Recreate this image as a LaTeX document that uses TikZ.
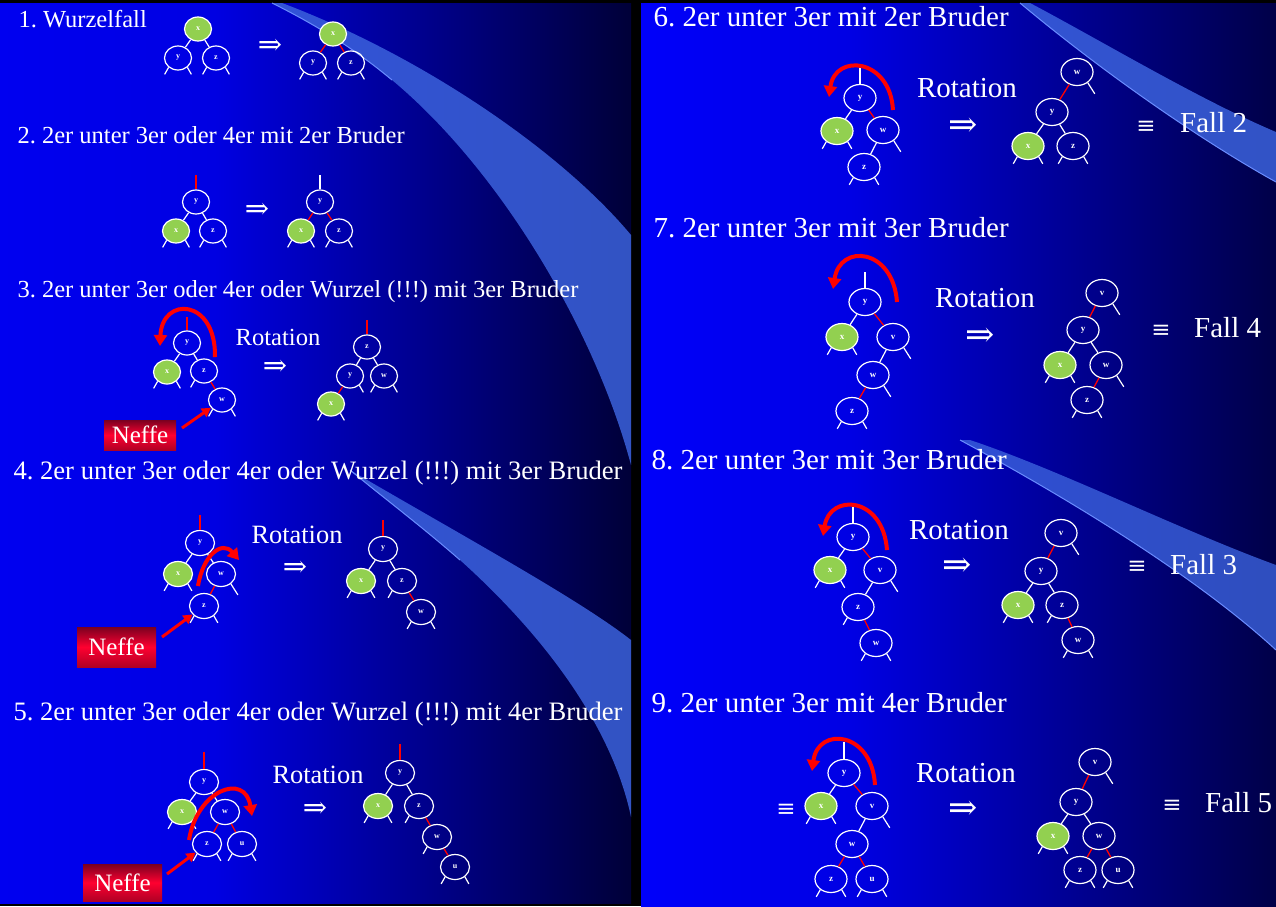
\documentclass[tikz,border=0pt]{standalone}
\usepackage{fontspec}
\setmainfont{Liberation Serif}
\newfontfamily\symf{DejaVu Serif}
\usetikzlibrary{shapes.geometric,arrows.meta}
\frenchspacing
\definecolor{ngreen}{HTML}{92D050}
\definecolor{Lzero}{HTML}{0000F0}
\definecolor{Lone}{HTML}{0000E2}
\definecolor{Ltwo}{HTML}{000038}
\definecolor{Rzero}{HTML}{0000FA}
\definecolor{Rone}{HTML}{0000E4}
\definecolor{Rtwo}{HTML}{000048}
\definecolor{swfill}{HTML}{3B62DC}
\definecolor{swline}{HTML}{6A8CFF}
\definecolor{nTop}{HTML}{7A0020}
\definecolor{nMid}{HTML}{FF0030}
\definecolor{nBot}{HTML}{B00025}
\pgfdeclarehorizontalshading{bgL}{100bp}{color(0bp)=(Lzero); color(25bp)=(Lzero); color(42bp)=(Lone); color(75bp)=(Ltwo); color(100bp)=(Ltwo)}
\pgfdeclarehorizontalshading{bgR}{100bp}{color(0bp)=(Rzero); color(25bp)=(Rzero); color(41.5bp)=(Rone); color(75bp)=(Rtwo); color(100bp)=(Rtwo)}
\newcommand\tlL[1]{\draw[we] (#1.-135) -- ++(-4,7);}
\newcommand\tlR[1]{\draw[we] (#1.-45) -- ++(4,7);}
\newcommand\tlRR[1]{\draw[we] (#1.-45) -- ++(7,11);}
\newcommand\tleaf[1]{\tlL{#1}\tlR{#1}}
\begin{document}
\begin{tikzpicture}[x=1pt,y=-1pt,
  nl/.style={ellipse, draw=white, line width=1.2pt, minimum width=27pt, minimum height=24pt, inner sep=0pt, text=white, font=\fontsize{8}{8}\selectfont\bfseries},
  nm/.style={nl, minimum width=29pt, minimum height=25pt},
  nr/.style={nl, minimum width=32pt, minimum height=27pt, font=\fontsize{9}{9}\selectfont\bfseries},
  gr/.style={fill=ngreen},
  we/.style={draw=white, line width=1.2pt},
  re/.style={draw=red, line width=1.3pt},
  rarrow/.style={draw=red, line width=4pt, -{Triangle[length=11pt,width=13pt]}},
  narrow/.style={draw=red, line width=3pt, -{Triangle[length=9pt,width=10pt]}},
  ttl/.style={anchor=base west, text=white, font=\fontsize{24.5}{26}\selectfont},
  ttm/.style={anchor=base west, text=white, font=\fontsize{26.6}{28}\selectfont},
  ttr/.style={anchor=base west, text=white, font=\fontsize{29}{31}\selectfont},
  rotl/.style={text=white, inner sep=0pt, font=\fontsize{24.6}{26}\selectfont},
  rotm/.style={text=white, inner sep=0pt, font=\fontsize{26.4}{28}\selectfont},
  rotr/.style={text=white, inner sep=0pt, font=\fontsize{29}{31}\selectfont},
  impl/.style={text=white, inner sep=0pt, font=\symf\fontsize{29}{29}\selectfont},
  impr/.style={text=white, inner sep=0pt, font=\symf\fontsize{35}{35}\selectfont},
  eqv/.style={text=white, inner sep=0pt, font=\symf\fontsize{23}{23}\selectfont},
  fall/.style={anchor=west, text=white, inner sep=0pt, font=\fontsize{29}{31}\selectfont},
  neffe/.style={text=white, inner sep=0pt, top color=nTop, bottom color=nBot, middle color=nMid, font=\fontsize{25}{25}\selectfont}
]
\useasboundingbox (0,0) rectangle (1276,906);
% backgrounds
\fill[black] (0,0) rectangle (1276,906);
\shade[shading=bgL] (0,3) rectangle (631,903);
\shade[shading=bgR] (641,3) rectangle (1276,906);
% swooshes
\fill[swfill, opacity=0.85] (282,3) .. controls (420,55) and (560,150) .. (631,235) -- (631,465) .. controls (595,330) and (500,170) .. (392,80) .. controls (350,45) and (310,22) .. (272,3) -- cycle;
\draw[swline, line width=1pt] (272,3) .. controls (310,22) and (350,45) .. (392,80);
\fill[swfill, opacity=0.85] (350,470) .. controls (470,540) and (580,600) .. (631,640) -- (631,817) .. controls (615,740) and (560,650) .. (460,560) .. controls (420,525) and (380,495) .. (350,470) -- cycle;
\draw[swline, line width=1pt] (350,470) .. controls (380,495) and (420,525) .. (460,560);
\fill[swfill, opacity=0.85] (1030,3) .. controls (1100,40) and (1200,100) .. (1276,132) -- (1276,182) .. controls (1200,140) and (1100,70) .. (1020,3) -- cycle;
\draw[swline, line width=1pt] (1020,3) .. controls (1100,70) and (1200,140) .. (1276,182);
\fill[swfill, opacity=0.8] (970,440) .. controls (1060,470) and (1180,530) .. (1276,565) -- (1276,650) .. controls (1200,580) and (1080,505) .. (960,440) -- cycle;
\draw[swline, line width=1pt] (960,440) .. controls (1080,505) and (1200,580) .. (1276,650);

% titles
\node[ttl] (h1) at (15,27) {1. Wurzelfall};
\node[ttl] (h2) at (14,143) {2. 2er unter 3er oder 4er mit 2er Bruder};
\node[ttl] (h3) at (14,297) {3. 2er unter 3er oder 4er oder Wurzel (!!!) mit 3er Bruder};
\node[ttm] (h4) at (10,479) {4. 2er unter 3er oder 4er oder Wurzel (!!!) mit 3er Bruder};
\node[ttm] (h5) at (10,720) {5. 2er unter 3er oder 4er oder Wurzel (!!!) mit 4er Bruder};
\node[ttr] (h6) at (650,26) {6. 2er unter 3er mit 2er Bruder};
\node[ttr] (h7) at (650,237) {7. 2er unter 3er mit 3er Bruder};
\node[ttr] (h8) at (648,469) {8. 2er unter 3er mit 3er Bruder};
\node[ttr] (h9) at (648,712) {9. 2er unter 3er mit 4er Bruder};

% ---- Tree 1
\node[nl,gr] (t1x) at (198,29) {x};
\node[nl] (t1y) at (178,58) {y};
\node[nl] (t1z) at (216,58) {z};
\draw[we] (t1x) -- (t1y); \draw[we] (t1x) -- (t1z);
\tleaf{t1y}\tleaf{t1z}
\node[impl] (i1) at (270,47) {⇒};
\node[nl,gr] (u1x) at (333,34) {x};
\node[nl] (u1y) at (313,63) {y};
\node[nl] (u1z) at (351,63) {z};
\draw[re] (u1x) -- (u1y); \draw[re] (u1x) -- (u1z);
\tleaf{u1y}\tleaf{u1z}

% ---- Tree 2
\node[nl] (t2y) at (196,202) {y};
\node[nl,gr] (t2x) at (176,231) {x};
\node[nl] (t2z) at (213,231) {z};
\coordinate (t2top) at (196,175);
\draw[re] (t2top) -- (t2y);
\draw[we] (t2y) -- (t2x); \draw[we] (t2y) -- (t2z);
\tleaf{t2x}\tleaf{t2z}
\node[impl] (i2) at (257,211) {⇒};
\node[nl] (u2y) at (320,202) {y};
\node[nl,gr] (u2x) at (301,231) {x};
\node[nl] (u2z) at (339,231) {z};
\coordinate (u2top) at (320,175);
\draw[we] (u2top) -- (u2y);
\draw[re] (u2y) -- (u2x); \draw[re] (u2y) -- (u2z);
\tleaf{u2x}\tleaf{u2z}

% ---- Tree 3
\node[nl] (t3y) at (187,343) {y};
\node[nl,gr] (t3x) at (167,372) {x};
\node[nl] (t3z) at (204,371) {z};
\node[nl] (t3w) at (222,400) {w};
\coordinate (t3top) at (187,317);
\draw[re] (t3top) -- (t3y);
\draw[we] (t3y) -- (t3x); \draw[we] (t3y) -- (t3z);
\draw[re] (t3z) -- (t3w);
\tleaf{t3x}\tlL{t3z}\tleaf{t3w}
\coordinate (r3a) at (215,357); \coordinate (r3b) at (160,346);
\draw[rarrow] (r3a) .. controls (216,298) and (162,296) .. (r3b);
\node[rotl] (o3) at (278,337) {Rotation};
\node[impl] (i3) at (275,368) {⇒};
\node[neffe, minimum width=72pt, minimum height=30pt] (n3) at (140,435) {Neffe};
\coordinate (a3) at (182,428);
\draw[narrow] (a3) -- (t3w);
\node[nl] (u3z) at (367,347) {z};
\node[nl] (u3y) at (350,376) {y};
\node[nl] (u3w) at (384,376) {w};
\node[nl,gr] (u3x) at (331,404) {x};
\coordinate (u3top) at (367,320);
\draw[re] (u3top) -- (u3z);
\draw[we] (u3z) -- (u3y); \draw[we] (u3z) -- (u3w);
\draw[re] (u3y) -- (u3x);
\tlR{u3y}\tleaf{u3w}\tleaf{u3x}

% ---- Tree 4
\node[nm] (t4y) at (200,543) {y};
\node[nm,gr] (t4x) at (178,574) {x};
\node[nm] (t4w) at (221,574) {w};
\node[nm] (t4z) at (204,606) {z};
\coordinate (t4top) at (200,515);
\draw[re] (t4top) -- (t4y);
\draw[we] (t4y) -- (t4x); \draw[we] (t4y) -- (t4w);
\draw[re] (t4w) -- (t4z);
\tleaf{t4x}\tlRR{t4w}\tleaf{t4z}
\coordinate (r4a) at (198,586); \coordinate (r4b) at (239,560);
\draw[rarrow] (r4a) .. controls (203,555) and (222,540) .. (r4b);
\node[rotm] (o4) at (297,535) {Rotation};
\node[impl] (i4) at (295,569) {⇒};
\node[neffe, minimum width=79pt, minimum height=40pt] (n4) at (116.5,647) {Neffe};
\coordinate (a4) at (162,637);
\draw[narrow] (a4) -- (t4z);
\node[nm] (u4y) at (383,549) {y};
\node[nm,gr] (u4x) at (361,581) {x};
\node[nm] (u4z) at (402,581) {z};
\node[nm] (u4w) at (421,612) {w};
\coordinate (u4top) at (383,520);
\draw[re] (u4top) -- (u4y);
\draw[we] (u4y) -- (u4x); \draw[we] (u4y) -- (u4z);
\draw[re] (u4z) -- (u4w);
\tleaf{u4x}\tlL{u4z}\tleaf{u4w}

% ---- Tree 5
\node[nm] (t5y) at (204,782) {y};
\node[nm,gr] (t5x) at (182,812) {x};
\node[nm] (t5w) at (225,812) {w};
\node[nm] (t5z) at (207,844) {z};
\node[nm] (t5u) at (242,844) {u};
\coordinate (t5top) at (204,752);
\draw[re] (t5top) -- (t5y);
\draw[we] (t5y) -- (t5x); \draw[we] (t5y) -- (t5w);
\draw[re] (t5w) -- (t5z); \draw[re] (t5w) -- (t5u);
\tleaf{t5x}\tleaf{t5z}\tleaf{t5u}
\coordinate (r5a) at (189,840); \coordinate (r5b) at (252,816);
\draw[rarrow] (r5a) .. controls (197,790) and (245,772) .. (r5b);
\node[rotm] (o5) at (318,775) {Rotation};
\node[impl] (i5) at (315,810) {⇒};
\node[neffe, minimum width=79pt, minimum height=37pt] (n5) at (122.5,882.5) {Neffe};
\coordinate (a5) at (167,874);
\draw[narrow] (a5) -- (t5z);
\node[nm] (u5y) at (400,773) {y};
\node[nm,gr] (u5x) at (378,806) {x};
\node[nm] (u5z) at (419,806) {z};
\node[nm] (u5w) at (437,837) {w};
\node[nm] (u5u) at (455,867) {u};
\coordinate (u5top) at (400,744);
\draw[re] (u5top) -- (u5y);
\draw[we] (u5y) -- (u5x); \draw[we] (u5y) -- (u5z);
\draw[re] (u5z) -- (u5w); \draw[re] (u5w) -- (u5u);
\tleaf{u5x}\tlL{u5z}\tlL{u5w}\tleaf{u5u}

% ---- Tree 6
\node[nr] (t6y) at (860,98) {y};
\node[nr,gr] (t6x) at (837,131) {x};
\node[nr] (t6w) at (883,130) {w};
\node[nr] (t6z) at (864,167) {z};
\coordinate (t6top) at (860,67);
\draw[we] (t6top) -- (t6y);
\draw[we] (t6y) -- (t6x); \draw[re] (t6y) -- (t6w);
\draw[we] (t6w) -- (t6z);
\tleaf{t6x}\tlRR{t6w}\tleaf{t6z}
\coordinate (r6a) at (893,110); \coordinate (r6b) at (829,97);
\draw[rarrow] (r6a) .. controls (890,58) and (835,53) .. (r6b);
\node[rotr] (o6) at (967,88) {Rotation};
\node[impr] (i6) at (963,127) {⇒};
\node[nr] (u6w) at (1077,72) {w};
\node[nr] (u6y) at (1052,112) {y};
\node[nr,gr] (u6x) at (1028,146) {x};
\node[nr] (u6z) at (1073,146) {z};
\draw[re] (u6w) -- (u6y);
\draw[we] (u6y) -- (u6x); \draw[we] (u6y) -- (u6z);
\tlRR{u6w}\tleaf{u6x}\tleaf{u6z}
\node[eqv] (e6) at (1146,127) {≡};
\node[fall] (f6) at (1180,123) {Fall 2};

% ---- Tree 7
\node[nr] (t7y) at (865,302) {y};
\node[nr,gr] (t7x) at (842,337) {x};
\node[nr] (t7v) at (893,337) {v};
\node[nr] (t7w) at (873,375) {w};
\node[nr] (t7z) at (852,411) {z};
\coordinate (t7top) at (865,272);
\draw[we] (t7top) -- (t7y);
\draw[we] (t7y) -- (t7x); \draw[re] (t7y) -- (t7v);
\draw[we] (t7v) -- (t7w); \draw[re] (t7w) -- (t7z);
\tleaf{t7x}\tlRR{t7v}\tlRR{t7w}\tleaf{t7z}
\coordinate (r7a) at (897,302); \coordinate (r7b) at (833,289);
\draw[rarrow] (r7a) .. controls (893,248) and (840,243) .. (r7b);
\node[rotr] (o7) at (985,298) {Rotation};
\node[impr] (i7) at (980,337) {⇒};
\node[nr] (u7v) at (1102,293) {v};
\node[nr] (u7y) at (1083,330) {y};
\node[nr,gr] (u7x) at (1060,365) {x};
\node[nr] (u7w) at (1106,365) {w};
\node[nr] (u7z) at (1087,400) {z};
\draw[re] (u7v) -- (u7y);
\draw[we] (u7y) -- (u7x); \draw[we] (u7y) -- (u7w);
\draw[re] (u7w) -- (u7z);
\tlRR{u7v}\tleaf{u7x}\tlRR{u7w}\tleaf{u7z}
\node[eqv] (e7) at (1161,331) {≡};
\node[fall] (f7) at (1194,328) {Fall 4};

% ---- Tree 8
\node[nr] (t8y) at (853,537) {y};
\node[nr,gr] (t8x) at (830,570) {x};
\node[nr] (t8v) at (880,570) {v};
\node[nr] (t8z) at (858,607) {z};
\node[nr] (t8w) at (876,643) {w};
\coordinate (t8top) at (853,505);
\draw[we] (t8top) -- (t8y);
\draw[we] (t8y) -- (t8x); \draw[re] (t8y) -- (t8v);
\draw[we] (t8v) -- (t8z); \draw[re] (t8z) -- (t8w);
\tleaf{t8x}\tlRR{t8v}\tlL{t8z}\tleaf{t8w}
\coordinate (r8a) at (887,550); \coordinate (r8b) at (823,536);
\draw[rarrow] (r8a) .. controls (883,496) and (830,493) .. (r8b);
\node[rotr] (o8) at (959,530) {Rotation};
\node[impr] (i8) at (957,567) {⇒};
\node[nr] (u8v) at (1061,533) {v};
\node[nr] (u8y) at (1041,571) {y};
\node[nr,gr] (u8x) at (1018,605) {x};
\node[nr] (u8z) at (1062,605) {z};
\node[nr] (u8w) at (1078,640) {w};
\draw[re] (u8v) -- (u8y);
\draw[we] (u8y) -- (u8x); \draw[we] (u8y) -- (u8z);
\draw[re] (u8z) -- (u8w);
\tlRR{u8v}\tleaf{u8x}\tlL{u8z}\tleaf{u8w}
\node[eqv] (e8) at (1137,567) {≡};
\node[fall] (f8) at (1170,565) {Fall 3};

% ---- Tree 9
\node[nr] (t9y) at (844,773) {y};
\node[nr,gr] (t9x) at (821,806) {x};
\node[nr] (t9v) at (872,806) {v};
\node[nr] (t9w) at (852,844) {w};
\node[nr] (t9z) at (831,879) {z};
\node[nr] (t9u) at (872,879) {u};
\coordinate (t9top) at (844,742);
\draw[we] (t9top) -- (t9y);
\draw[we] (t9y) -- (t9x); \draw[re] (t9y) -- (t9v);
\draw[we] (t9v) -- (t9w);
\draw[re] (t9w) -- (t9z); \draw[re] (t9w) -- (t9u);
\tleaf{t9x}\tlRR{t9v}\tleaf{t9z}\tleaf{t9u}
\node[eqv] (e9l) at (786,810) {≡};
\coordinate (r9a) at (875,785); \coordinate (r9b) at (812,771);
\draw[rarrow] (r9a) .. controls (872,731) and (818,726) .. (r9b);
\node[rotr] (o9) at (966,773) {Rotation};
\node[impr] (i9) at (963,810) {⇒};
\node[nr] (u9v) at (1095,762) {v};
\node[nr] (u9y) at (1076,802) {y};
\node[nr,gr] (u9x) at (1053,836) {x};
\node[nr] (u9w) at (1099,836) {w};
\node[nr] (u9z) at (1080,870) {z};
\node[nr] (u9u) at (1118,870) {u};
\draw[re] (u9v) -- (u9y);
\draw[we] (u9y) -- (u9x); \draw[we] (u9y) -- (u9w);
\draw[re] (u9w) -- (u9z); \draw[re] (u9w) -- (u9u);
\tlRR{u9v}\tleaf{u9x}\tleaf{u9z}\tleaf{u9u}
\node[eqv] (e9) at (1172,806) {≡};
\node[fall] (f9) at (1205,803) {Fall 5};
\end{tikzpicture}
\end{document}
